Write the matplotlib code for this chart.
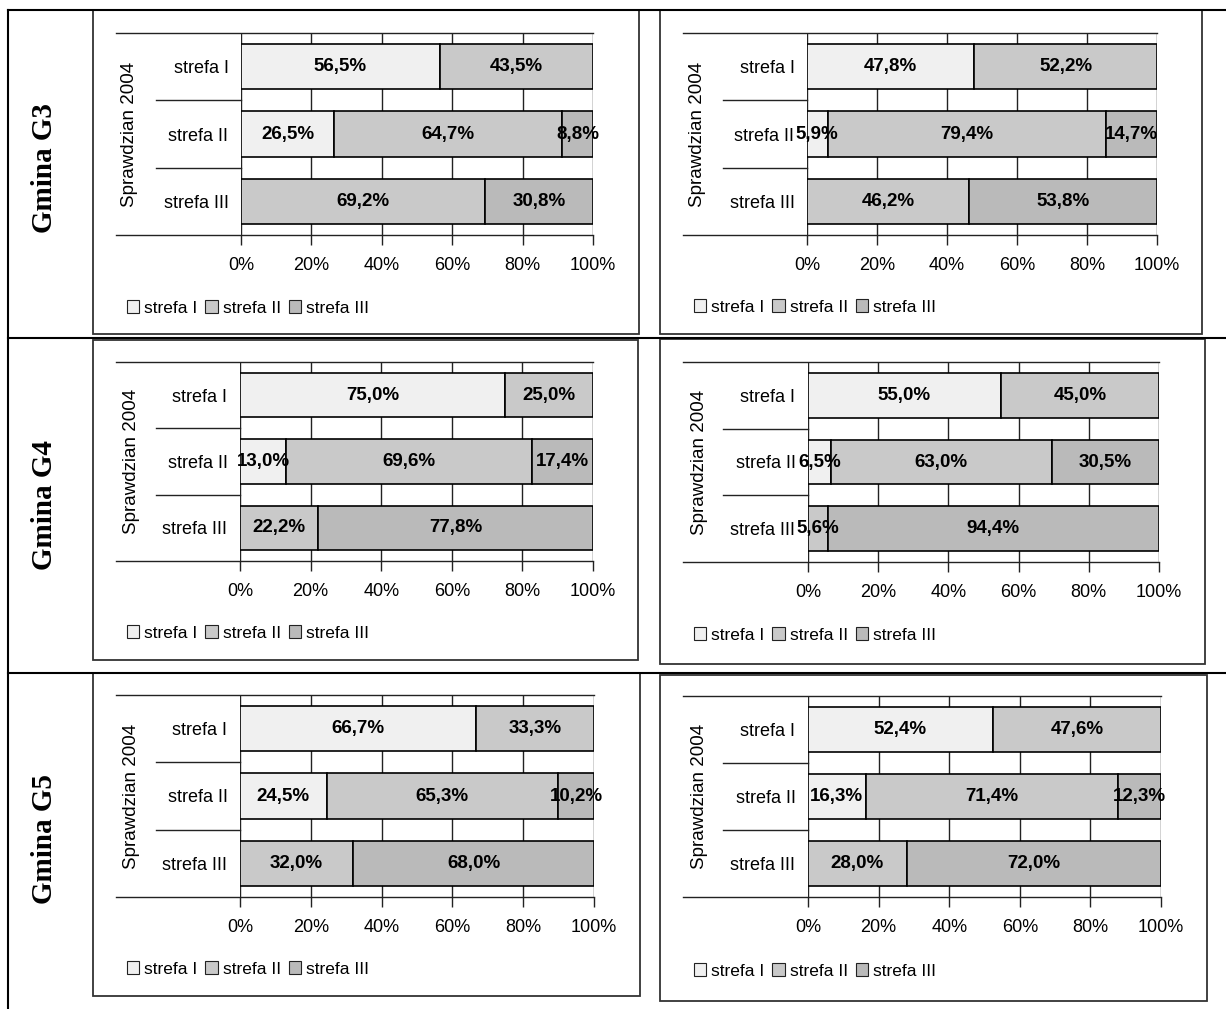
import matplotlib
matplotlib.use('Agg')
import matplotlib.pyplot as plt
from matplotlib.patches import Patch, Rectangle
from matplotlib.lines import Line2D

plt.rcParams['font.family'] = ['Liberation Sans', 'DejaVu Sans']

W, H = 1226, 1009

categories = ['strefa I', 'strefa II', 'strefa III']
series_names = ['strefa I', 'strefa II', 'strefa III']
series_colors = ['#f0f0f0', '#c9c9c9', '#bababa']
gmina_names = ['Gmina G3', 'Gmina G4', 'Gmina G5']
tick_values = [0, 20, 40, 60, 80, 100]
tick_labels = ['0%', '20%', '40%', '60%', '80%', '100%']

# each panel: values of series strefa I / II / III for categories strefa I, II, III
g3_left = [[56.5, 26.5, 0.0], [43.5, 64.7, 69.2], [0.0, 8.8, 30.8]]
g3_right = [[47.8, 5.9, 0.0], [52.2, 79.4, 46.2], [0.0, 14.7, 53.8]]
g4_left = [[75.0, 13.0, 0.0], [25.0, 69.6, 22.2], [0.0, 17.4, 77.8]]
g4_right = [[55.0, 6.5, 0.0], [45.0, 63.0, 5.6], [0.0, 30.5, 94.4]]
g5_left = [[66.7, 24.5, 0.0], [33.3, 65.3, 32.0], [0.0, 10.2, 68.0]]
g5_right = [[52.4, 16.3, 0.0], [47.6, 71.4, 28.0], [0.0, 12.3, 72.0]]

# layout in pixels: frame box, plot area (0%, 100%, top, bottom), label column x, legend pos
panels = [
    (g3_left, (93, 10, 639, 334), (241, 593, 33, 235), (116, 156, 130), (127, 308)),
    (g3_right, (660, 10, 1202, 334), (807, 1157, 33, 235), (683, 723, 698), (694, 307)),
    (g4_left, (93, 340, 638, 660), (240, 593, 362, 561), (116, 156, 131), (127, 633)),
    (g4_right, (660, 339, 1205, 664), (808, 1159, 362, 562), (683, 723, 700), (694, 635)),
    (g5_left, (93, 673, 640, 996), (240, 594, 695, 897), (116, 156, 131), (127, 969)),
    (g5_right, (660, 675, 1207, 1001), (808, 1161, 696, 897), (683, 723, 700), (694, 971)),
]
gmina_y = [168, 505, 839]


def fx(px):
    return px / W


def fy(py):
    return 1 - py / H


def fig_line(fig, xs, ys, lw=1.0, color='#222222'):
    fig.add_artist(Line2D([fx(x) for x in xs], [fy(y) for y in ys],
                          lw=lw, color=color, transform=fig.transFigure))


fig = plt.figure(figsize=(W / 100, H / 100), dpi=100)

# table lines
fig_line(fig, [8, W], [10, 10], lw=1.5, color='black')
fig_line(fig, [8, W], [338, 338], lw=1.5, color='black')
fig_line(fig, [8, W], [673, 673], lw=1.5, color='black')
fig_line(fig, [8, 8], [10, H], lw=1.5, color='black')

for name, gy in zip(gmina_names, gmina_y):
    fig.text(fx(45), fy(gy), name, rotation=90, ha='center', va='center',
             fontsize=21, fontweight='bold', family=['Liberation Serif', 'DejaVu Serif'])

for data, frame, plot, labcol, leg in panels:
    x0, y0, x1, y1 = frame
    fig.add_artist(Rectangle((fx(x0), fy(y1)), (x1 - x0) / W, (y1 - y0) / H,
                             fill=False, lw=1.3, ec='#333333', transform=fig.transFigure))
    p0, p1, ptop, pbot = plot
    ax = fig.add_axes([fx(p0), fy(pbot), (p1 - p0) / W, (pbot - ptop) / H])
    ax.set_xlim(0, 100)
    ax.set_ylim(2.5, -0.5)
    for s in ax.spines.values():
        s.set_visible(False)

    ypos = list(range(len(categories)))
    left = [0.0] * len(categories)
    for vals, col in zip(data, series_colors):
        for i, v in enumerate(vals):
            if v <= 0:
                continue
            ax.barh(ypos[i], v, left=left[i], height=0.67, color=col,
                    edgecolor='black', lw=1.2, zorder=3)
            ax.text(left[i] + v / 2, ypos[i], f"{v:.1f}%".replace('.', ','),
                    ha='center', va='center', fontsize=13.5, fontweight='bold', zorder=4)
            left[i] += v

    ax.set_xticks(tick_values)
    ax.set_xticklabels(tick_labels)
    ax.set_yticks(ypos)
    ax.set_yticklabels(categories)
    ax.tick_params(axis='x', length=7, width=1, color='#222222', pad=9, labelsize=13)
    ax.tick_params(axis='y', length=0, pad=9, labelsize=13)
    ax.grid(axis='x', color='#222222', lw=1)
    ax.set_axisbelow(True)

    outer_x, inner_x, spr_x = labcol
    fig_line(fig, [outer_x, p1], [ptop, ptop])
    fig_line(fig, [outer_x, p1], [pbot, pbot])
    step = (pbot - ptop) / len(categories)
    for k in range(1, len(categories)):
        fig_line(fig, [inner_x, p0], [ptop + k * step] * 2)
    fig.text(fx(spr_x), fy((ptop + pbot) / 2), 'Sprawdzian 2004', rotation=90,
             ha='center', va='center', fontsize=13.5)

    handles = [Patch(facecolor=c, edgecolor='#222222', lw=0.8) for c in series_colors]
    ax.legend(handles, series_names, ncol=3, loc='center left',
              bbox_to_anchor=(fx(leg[0]), fy(leg[1])), bbox_transform=fig.transFigure,
              frameon=False, fontsize=12.5, handlelength=0.7, handleheight=0.7,
              handletextpad=0.3, columnspacing=0.45, borderpad=0, borderaxespad=0)

fig.savefig('out.png', dpi=100, facecolor='white')
